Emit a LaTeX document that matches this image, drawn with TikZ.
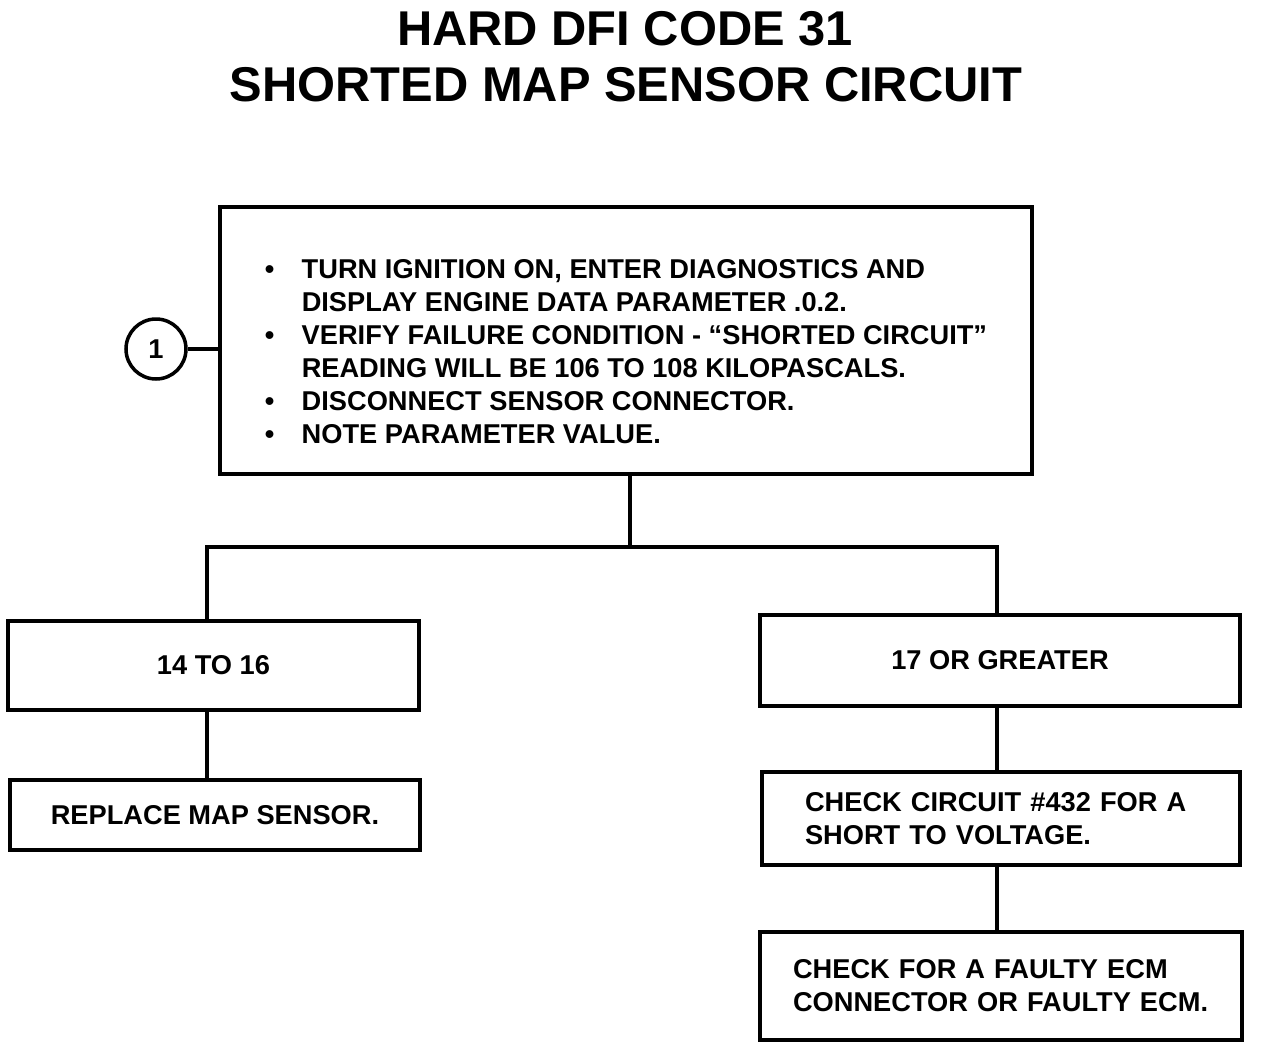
\documentclass[tikz,border=0pt]{standalone}
\usepackage{fontspec}
\usepackage{graphicx}
\setmainfont{Liberation Sans}
\begin{document}
\begin{tikzpicture}[x=0.02cm,y=-0.02cm,
  line width=2pt,
  body/.style={font=\fontsize{15.5}{18.7}\selectfont\bfseries},
  box/.style={draw, rectangle, body, inner sep=0pt, align=center},
  lbox/.style={draw, rectangle, body, align=left, inner ysep=0pt},
  title/.style={font=\fontsize{27.8}{30}\selectfont\bfseries, inner sep=0pt, anchor=base}]
\useasboundingbox (0,0) rectangle (1264,1058);

\node[title] (t1) at (625,45) {HARD DFI CODE 31};
\node[title] (t2) at (626,101) {SHORTED MAP SENSOR CIRCUIT};

\node[draw, rectangle, minimum width=16.24cm, minimum height=5.34cm, inner sep=0pt] (main) at (626,340.5) {};
\node[body, anchor=north west, inner sep=0pt] (steps) at (263,254) {%
  \begin{tabular}{@{}p{0.74cm}@{}l@{}}
  \textbullet & TURN IGNITION ON, ENTER DIAGNOSTICS AND\\
   & DISPLAY ENGINE DATA PARAMETER .0.2.\\
  \textbullet & VERIFY FAILURE CONDITION - ``SHORTED CIRCUIT''\\
   & READING WILL BE 106 TO 108 KILOPASCALS.\\
  \textbullet & DISCONNECT SENSOR CONNECTOR.\\
  \textbullet & NOTE PARAMETER VALUE.
  \end{tabular}};

\node[draw, circle, minimum size=1.2cm, inner sep=0pt, body] (c1) at (156,349) {1};

\node[box, minimum width=8.22cm, minimum height=1.78cm] (b14) at (213.5,665.5) {14 TO 16};
\node[box, minimum width=9.6cm, minimum height=1.82cm] (b17) at (1000,660.5) {17 OR GREATER};
\node[box, minimum width=8.2cm, minimum height=1.4cm] (rep) at (215,815) {REPLACE MAP SENSOR.};
\node[lbox, inner xsep=0.86cm, text width=7.84cm, minimum height=1.86cm] (chk) at (1001,818.5) {CHECK CIRCUIT \#432 FOR A\\SHORT TO VOLTAGE.};
\node[lbox, inner xsep=0.66cm, text width=8.32cm, minimum height=2.16cm] (ecm) at (1001,986) {CHECK FOR A FAULTY ECM\\CONNECTOR OR FAULTY ECM.};

\coordinate (j) at (630,547);
\coordinate (jl) at (207,547);
\coordinate (jr) at (997,547);

\draw (c1.east) -- (main.west |- c1.east);
\draw (main.south -| j) -- (j);
\draw (b14.north -| jl) -- (jl) -- (jr) -- (b17.north -| jr);
\draw (b14.south -| jl) -- (rep.north -| jl);
\draw (b17.south -| jr) -- (chk.north -| jr);
\draw (chk.south -| jr) -- (ecm.north -| jr);
\end{tikzpicture}
\end{document}
